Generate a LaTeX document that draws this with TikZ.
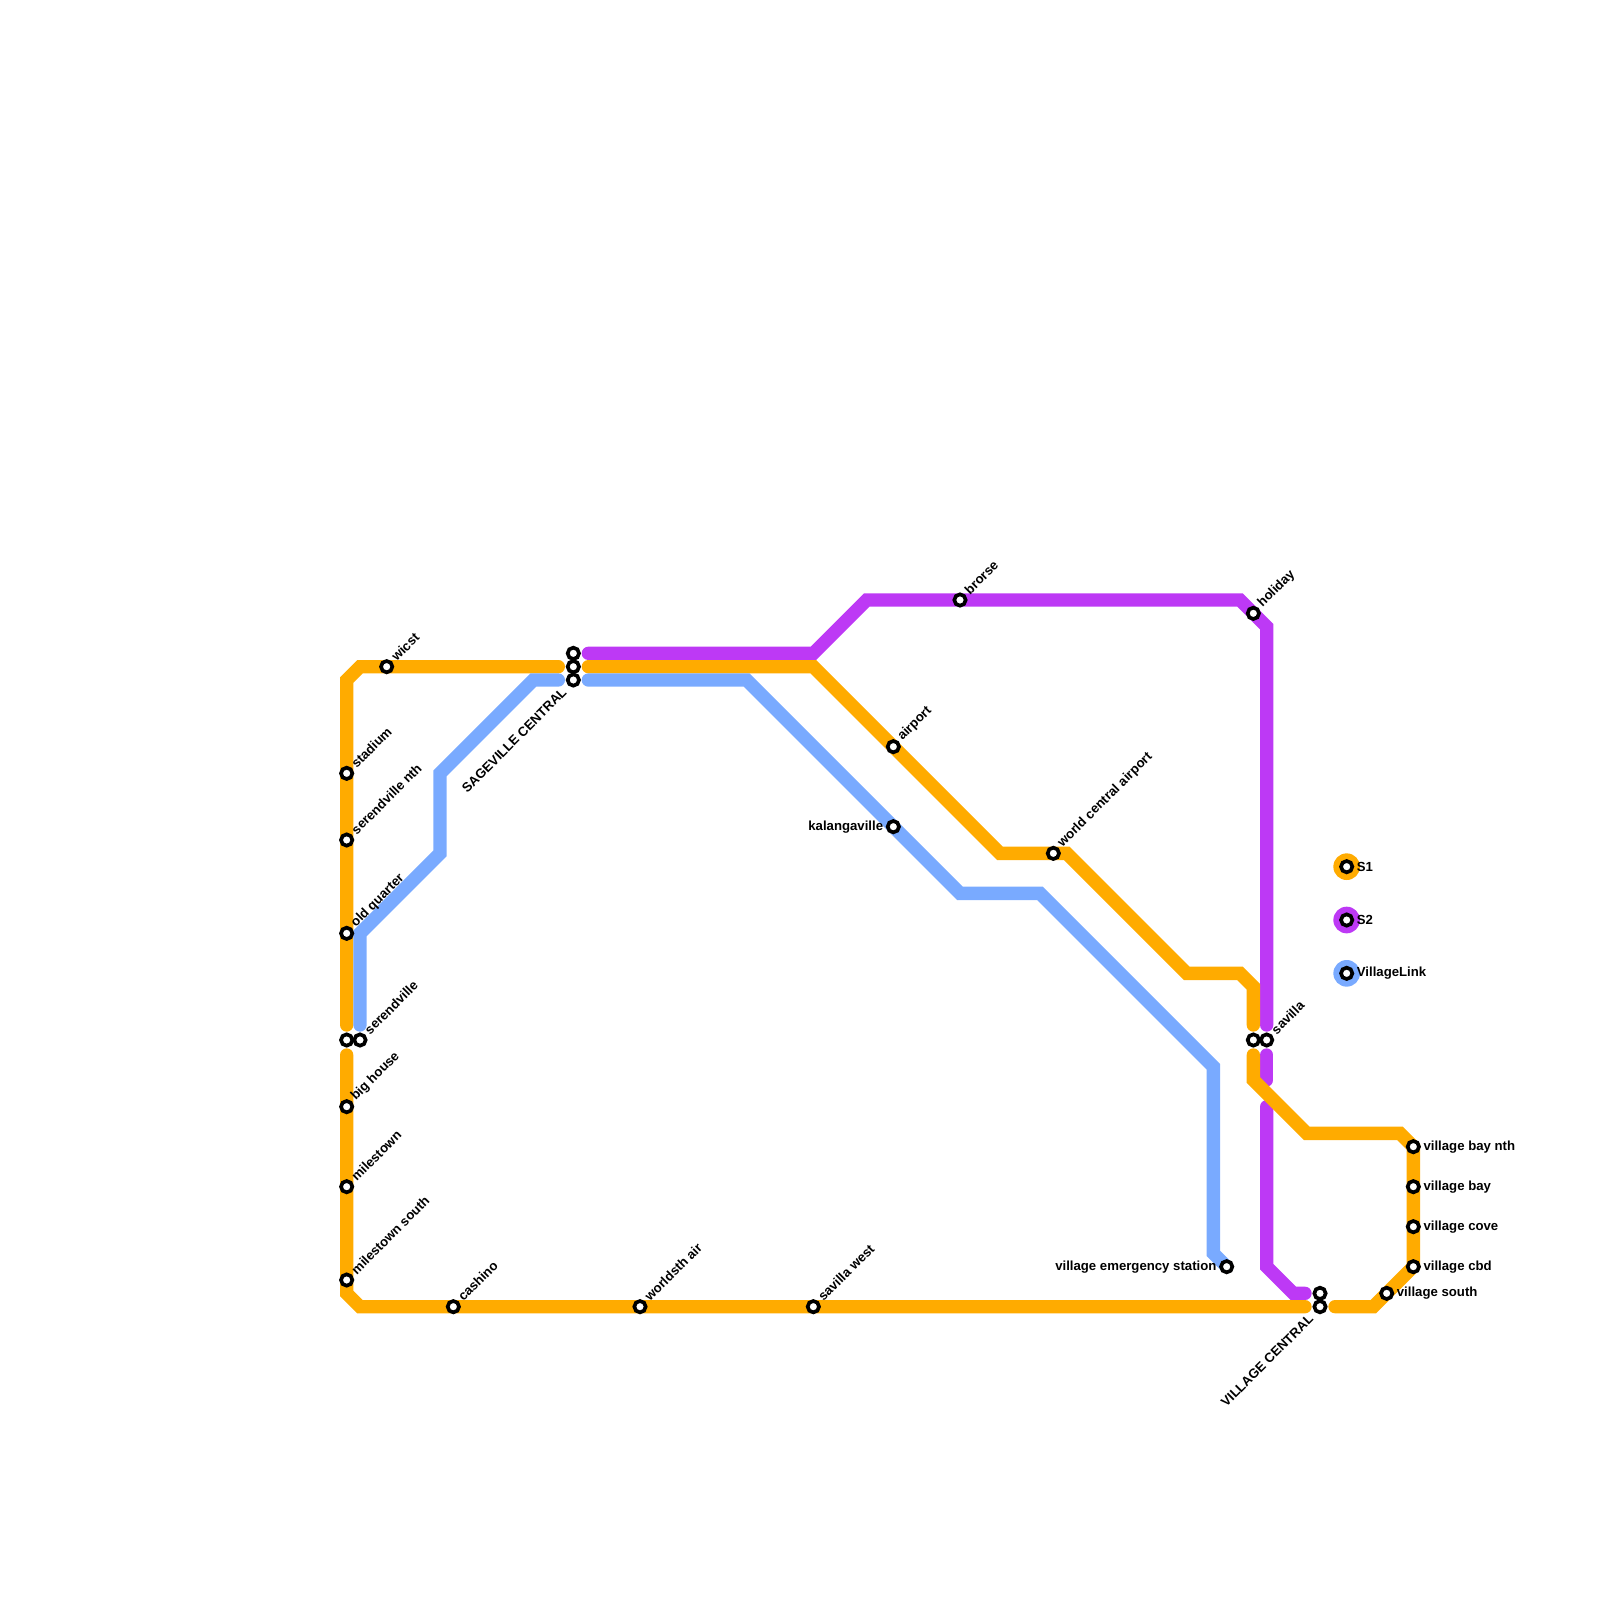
\documentclass[tikz,border=0pt]{standalone}
\usepackage{fontspec}
\setmainfont{Liberation Sans}
\usetikzlibrary{positioning}
\definecolor{sone}{HTML}{FFAB00}
\definecolor{stwo}{HTML}{BD39F5}
\definecolor{vlink}{HTML}{79AAFF}
\tikzset{
    route/.style={line width=0.4cm, line cap=round, line join=miter},
    stn/.style={circle, draw=black, fill=white, line width=0.11cm, minimum size=0.34cm, inner sep=0pt},
    lbl/.style={font=\fontsize{11.25}{12}\bfseries\selectfont, inner sep=0pt, text=black},
    lblup/.style={lbl, rotate=45, anchor=west},
    lbldown/.style={lbl, rotate=45, anchor=east},
    lblright/.style={lbl, anchor=west},
    lblleft/.style={lbl, anchor=east}
}

\begin{document}
\begin{tikzpicture}[x=0.4cm, y=-0.4cm]
    \useasboundingbox (0,0) rectangle (120,120);

    % Draw the S2 line
    \draw[route, stwo] (44.125,49) -- (61,49) -- (65,45) -- (93,45) -- (95,47) -- (95,76.875);
    \draw[route, stwo] (95,79.125) -- (95,81);
    \draw[route, stwo] (95,83) -- (95,95) -- (97,97) -- (97.875,97);

    % Draw the S1 line
    \draw[route, sone] (41.875,50) -- (27,50) -- (26,51) -- (26,76.875);
    \draw[route, sone] (26,79.125) -- (26,97) -- (27,98) -- (97.875,98);
    \draw[route, sone] (100.125,98) -- (103,98) -- (106,95) -- (106,86) -- (105,85) -- (98,85) -- (94,81) -- (94,79.125);
    \draw[route, sone] (94,76.875) -- (94,74) -- (93,73) -- (89,73) -- (80,64) -- (75,64) -- (61,50) -- (44.125,50);

    % Draw the VillageLink line
    \draw[route, vlink] (41.875,51) -- (40,51) -- (33,58) -- (33,64) -- (27,70) -- (27,76.875);
    \draw[route, vlink] (44.125,51) -- (56,51) -- (72,67) -- (78,67) -- (91,80) -- (91,94) -- (92,95);

    % Draw the stations
    \node[stn] (wicst) at (29,50) {};
    \node[stn] (stadium) at (26,58) {};
    \node[stn] (serendvillenth) at (26,63) {};
    \node[stn] (oldquarter) at (26,70) {};
    \node[stn] (serendvillea) at (26,78) {};
    \node[stn] (serendville) at (27,78) {};
    \node[stn] (bighouse) at (26,83) {};
    \node[stn] (milestown) at (26,89) {};
    \node[stn] (milestownsouth) at (26,96) {};
    \node[stn] (cashino) at (34,98) {};
    \node[stn] (worldsthair) at (48,98) {};
    \node[stn] (savillawest) at (61,98) {};
    \node[stn] (sagea) at (43,49) {};
    \node[stn] (sageb) at (43,50) {};
    \node[stn] (sagec) at (43,51) {};
    \node[stn] (airport) at (67,56) {};
    \node[stn] (kalangaville) at (67,62) {};
    \node[stn] (brorse) at (72,45) {};
    \node[stn] (worldcentral) at (79,64) {};
    \node[stn] (holiday) at (94,46) {};
    \node[stn] (savillaa) at (94,78) {};
    \node[stn] (savilla) at (95,78) {};
    \node[stn] (emergency) at (92,95) {};
    \node[stn] (villagea) at (99,97) {};
    \node[stn] (villageb) at (99,98) {};
    \node[stn] (villagesouth) at (104,97) {};
    \node[stn] (baynth) at (106,86) {};
    \node[stn] (bay) at (106,89) {};
    \node[stn] (cove) at (106,92) {};
    \node[stn] (cbd) at (106,95) {};

    % Station labels
    \node[lblup] at ([shift={(0.5,-0.6)}]wicst) {wicst};
    \node[lblup] at ([shift={(0.5,-0.6)}]stadium) {stadium};
    \node[lblup] at ([shift={(0.5,-0.6)}]serendvillenth) {serendville nth};
    \node[lblup] at ([shift={(0.5,-0.6)}]oldquarter) {old quarter};
    \node[lblup] at ([shift={(0.5,-0.6)}]serendville) {serendville};
    \node[lblup] at ([shift={(0.5,-0.6)}]bighouse) {big house};
    \node[lblup] at ([shift={(0.5,-0.6)}]milestown) {milestown};
    \node[lblup] at ([shift={(0.5,-0.6)}]milestownsouth) {milestown south};
    \node[lblup] at ([shift={(0.5,-0.6)}]cashino) {cashino};
    \node[lblup] at ([shift={(0.5,-0.6)}]worldsthair) {worldsth air};
    \node[lblup] at ([shift={(0.5,-0.6)}]savillawest) {savilla west};
    \node[lblup] at ([shift={(0.5,-0.6)}]airport) {airport};
    \node[lblup] at ([shift={(0.5,-0.6)}]brorse) {brorse};
    \node[lblup] at ([shift={(0.5,-0.6)}]worldcentral) {world central airport};
    \node[lblup] at ([shift={(0.5,-0.6)}]holiday) {holiday};
    \node[lblup] at ([shift={(0.5,-0.6)}]savilla) {savilla};
    \node[lbldown] at ([shift={(-0.68,0.76)}]sagec) {SAGEVILLE CENTRAL};
    \node[lbldown] at ([shift={(-0.68,0.76)}]villageb) {VILLAGE CENTRAL};
    \node[lblleft] at ([xshift=-0.3cm]kalangaville) {kalangaville};
    \node[lblleft] at ([xshift=-0.3cm]emergency) {village emergency station};
    \node[lblright] at ([xshift=0.3cm]villagesouth) {village south};
    \node[lblright] at ([xshift=0.3cm]baynth) {village bay nth};
    \node[lblright] at ([xshift=0.3cm]bay) {village bay};
    \node[lblright] at ([xshift=0.3cm]cove) {village cove};
    \node[lblright] at ([xshift=0.3cm]cbd) {village cbd};

    % Draw the key
    \fill[sone] (101,65) circle (0.4cm);
    \fill[stwo] (101,69) circle (0.4cm);
    \fill[vlink] (101,73) circle (0.4cm);
    \node[stn] (keyone) at (101,65) {};
    \node[stn] (keytwo) at (101,69) {};
    \node[stn] (keylink) at (101,73) {};
    \node[lblright] at ([xshift=0.3cm]keyone) {S1};
    \node[lblright] at ([xshift=0.3cm]keytwo) {S2};
    \node[lblright] at ([xshift=0.3cm]keylink) {VillageLink};
\end{tikzpicture}
\end{document}
